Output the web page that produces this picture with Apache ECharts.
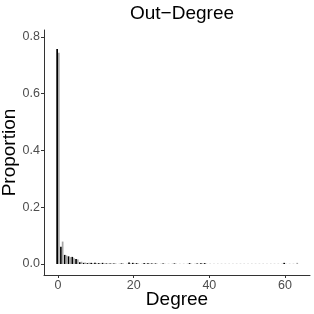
<!DOCTYPE html>
<html>
<head>
<meta charset="utf-8">
<script src="https://cdn.jsdelivr.net/npm/echarts@6/dist/echarts.min.js"></script>
<style>html,body{margin:0;padding:0;background:#fff}#c{width:314px;height:314px}</style>
</head>
<body>
<div id="c"></div>
<script>
// Observed out-degree distribution (black)
const observedDegrees = [0,1,2,3,4,5,6,7,8,9,10,11,12,13,14,15,17,19,20,21,23,24,25,26,28,31,35,37,38,39,60];
const observedProps   = [0.758,0.061,0.032,0.027,0.025,0.018,0.006,0.004,0.003,0.004,0.004,0.003,0.004,0.002,0.002,0.002,0.002,0.005,0.004,0.003,0.003,0.003,0.002,0.002,0.002,0.002,0.003,0.002,0.003,0.003,0.004];
// Comparison distribution (grey)
const compareDegrees = [0,1,2,3,4,5,6,7,8,9,10,11,12,13,14,15,16,17,18,19,20,21,22,23,24,25,26,27,28,29,30,31,32,33,34,35,36,37,38,39,40,41,42,43,44,45,46,47,48,49,50,51,52,53,54,55,56,57,58,59,60,61,62,63];
const compareProps   = [0.744,0.079,0.030,0.024,0.020,0.016,0.008,0.005,0.004,0.003,0.003,0.002,0.002,0.002,0.002,0.002,0.001,0.002,0.001,0.002,0.002,0.002,0.001,0.002,0.002,0.001,0.001,0.001,0.001,0.001,0.001,0.001,0.001,0.001,0.001,0.001,0.001,0.001,0.002,0.001,0.001,0.001,0.001,0.001,0.001,0.001,0.001,0.001,0.001,0.001,0.001,0.001,0.001,0.001,0.001,0.001,0.001,0.001,0.001,0.001,0.001,0.001,0.001,0.004];
const xTicks = [0,20,40,60];
const yTicks = [0,0.2,0.4,0.6,0.8];

const chart = echarts.init(document.getElementById('c'), null, {renderer:'canvas'});
const font = 'Liberation Sans, Arial, Helvetica, sans-serif';
chart.setOption({
  animation:false,
  backgroundColor:'#fff',
  title:{text:'Out\u2212Degree', left:177, top:-1, textAlign:'center',
    textStyle:{fontFamily:font, fontSize:19, fontWeight:'normal', color:'#000'}},
  grid:{left:44, right:4, top:30, bottom:39, containLabel:false, outerBoundsMode:'none'},
  xAxis:{type:'value', min:-3.7, max:66.6,
    name:'Degree', nameLocation:'middle', nameGap:15, nameMoveOverlap:false,
    nameTextStyle:{fontFamily:font, fontSize:19, color:'#000'},
    axisLine:{show:true, onZero:false, lineStyle:{color:'#333', width:1}},
    axisTick:{show:true, length:3, lineStyle:{color:'#333'}, customValues:xTicks},
    axisLabel:{fontFamily:font, fontSize:12.5, color:'#4d4d4d', margin:4, customValues:xTicks},
    splitLine:{show:false}},
  yAxis:{type:'value', min:-0.0388, max:0.8246,
    name:'Proportion', nameLocation:'middle', nameGap:25, nameMoveOverlap:false,
    nameTextStyle:{fontFamily:font, fontSize:19, color:'#000'},
    axisLine:{show:true, onZero:false, lineStyle:{color:'#333', width:1}},
    axisTick:{show:true, length:3, lineStyle:{color:'#333'}, customValues:yTicks},
    axisLabel:{fontFamily:font, fontSize:12.5, color:'#4d4d4d', margin:4, customValues:yTicks,
      formatter:v=>v.toFixed(1)},
    splitLine:{show:false}},
  series:[
    {type:'bar', name:'observed', data:observedDegrees.map((d,i)=>[d,observedProps[i]]),
      barWidth:1.7, barGap:'0%', itemStyle:{color:'#000'}},
    {type:'bar', name:'compare', data:compareDegrees.map((d,i)=>[d,compareProps[i]]),
      barWidth:1.7, barGap:'0%', itemStyle:{color:'#a6a6a6'}}
  ]
});
</script>
</body>
</html>
